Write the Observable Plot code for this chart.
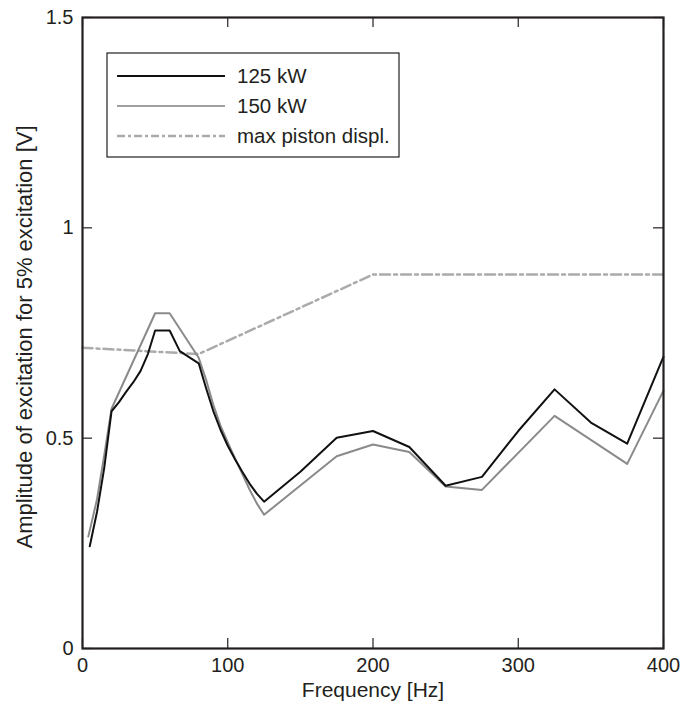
<!DOCTYPE html>
<html>
<head>
<meta charset="utf-8">
<script src="https://cdn.jsdelivr.net/npm/d3@7"></script>
<script src="https://cdn.jsdelivr.net/npm/@observablehq/plot@0.6"></script>
<style>
  html, body { margin: 0; padding: 0; background: #fff; }
  #wrap { position: relative; width: 682px; height: 705px; }
  #legend { position: absolute; left: 0; top: 0; pointer-events: none; }
</style>
</head>
<body>
<div id="wrap"></div>
<script>
// ---- data ----
const freq125 = [5, 10, 15, 20, 25, 30, 35, 40, 45, 50, 60, 67, 80, 85, 90, 95, 100, 105, 110, 115, 120, 125, 150, 175, 200, 225, 250, 275, 300, 325, 350, 375, 400];
const amp125  = [0.243, 0.325, 0.43, 0.564, 0.585, 0.610, 0.633, 0.660, 0.700, 0.756, 0.756, 0.707, 0.678, 0.62, 0.565, 0.52, 0.482, 0.45, 0.42, 0.392, 0.368, 0.349, 0.42, 0.501, 0.517, 0.479, 0.387, 0.408, 0.517, 0.616, 0.537, 0.487, 0.694];

const freq150 = [4, 10, 15, 20, 50, 60, 80, 85, 90, 95, 100, 105, 110, 115, 120, 125, 175, 200, 225, 250, 275, 325, 375, 400];
const amp150  = [0.266, 0.355, 0.46, 0.57, 0.797, 0.797, 0.691, 0.64, 0.58, 0.53, 0.49, 0.452, 0.415, 0.378, 0.345, 0.318, 0.457, 0.485, 0.467, 0.385, 0.377, 0.553, 0.439, 0.613];

const freqPiston = [0, 80, 200, 400];
const ampPiston  = [0.715, 0.700, 0.889, 0.889];

const seriesNames = ["125 kW", "150 kW", "max piston displ."];
const xTickValues = [0, 100, 200, 300, 400];
const yTickValues = [0, 0.5, 1, 1.5];
const yTickLabels = ["0", "0.5", "1", "1.5"];
const xLabel = "Frequency [Hz]";
const yLabel = "Amplitude of excitation for 5% excitation [V]";

// ---- build tables ----
const d125 = freq125.map((f, i) => ({f, a: amp125[i]}));
const d150 = freq150.map((f, i) => ({f, a: amp150[i]}));
const dPiston = freqPiston.map((f, i) => ({f, a: ampPiston[i]}));

const W = 682, H = 705;
const mL = 82, mR = 19, mT = 17, mB = 57;
const plotW = W - mL - mR, plotH = H - mT - mB;
const tickLen = 10;
const font = "'Liberation Sans', Arial, Helvetica, sans-serif";
const ink = "#231f20";

const c125 = "#111111", c150 = "#8a8a8a", cPiston = "#ababab";
const dashPiston = "10,4,3,4";

const chart = Plot.plot({
  width: W, height: H,
  marginLeft: mL, marginRight: mR, marginTop: mT, marginBottom: mB,
  x: {domain: [0, 400]},
  y: {domain: [0, 1.5]},
  style: {fontFamily: font, fontSize: "20px", color: ink, background: "#fff"},
  marks: [
    Plot.axisX(xTickValues, {anchor: "bottom", tickSize: 0, tickPadding: 9, label: null, fontSize: 20, tickFormat: d => String(d)}),
    Plot.axisY(yTickValues, {anchor: "left", tickSize: 0, tickPadding: 9, label: null, fontSize: 20, tickFormat: d => yTickLabels[yTickValues.indexOf(d)]}),
    // inward ticks on all four sides
    Plot.tickX(xTickValues, {x: d => d, insetTop: plotH - tickLen, stroke: ink, strokeWidth: 1.2}),
    Plot.tickX(xTickValues, {x: d => d, insetBottom: plotH - tickLen, stroke: ink, strokeWidth: 1.2}),
    Plot.tickY(yTickValues, {y: d => d, insetRight: plotW - tickLen, stroke: ink, strokeWidth: 1.2}),
    Plot.tickY(yTickValues, {y: d => d, insetLeft: plotW - tickLen, stroke: ink, strokeWidth: 1.2}),
    Plot.line(dPiston, {x: "f", y: "a", stroke: cPiston, strokeWidth: 2.5, strokeDasharray: dashPiston}),
    Plot.line(d150, {x: "f", y: "a", stroke: c150, strokeWidth: 2}),
    Plot.line(d125, {x: "f", y: "a", stroke: c125, strokeWidth: 2}),
    Plot.frame({stroke: ink, strokeWidth: 2.2}),
    Plot.text([xLabel], {frameAnchor: "bottom", textAnchor: "middle", lineAnchor: "middle", dy: 42, fontSize: 21, fill: ink}),
    Plot.text([yLabel], {frameAnchor: "left", textAnchor: "middle", lineAnchor: "middle", dx: -57.5, dy: 4, rotate: -90, fontSize: 22, fill: ink})
  ]
});

const wrap = document.getElementById("wrap");
wrap.appendChild(chart);

// ---- legend (overlay) ----
const ns = "http://www.w3.org/2000/svg";
const lg = document.createElementNS(ns, "svg");
lg.setAttribute("id", "legend");
lg.setAttribute("width", W);
lg.setAttribute("height", H);
const box = {x: 107, y: 53, w: 292, h: 104};
const rowY = [76, 106, 136];
const rect = document.createElementNS(ns, "rect");
rect.setAttribute("x", box.x); rect.setAttribute("y", box.y);
rect.setAttribute("width", box.w); rect.setAttribute("height", box.h);
rect.setAttribute("fill", "#fff"); rect.setAttribute("stroke", ink); rect.setAttribute("stroke-width", 1.2);
lg.appendChild(rect);
const styles = [
  {stroke: c125, width: 2, dash: null},
  {stroke: "#a0a0a0", width: 2, dash: null},
  {stroke: cPiston, width: 2.5, dash: "8,3,3,3"}
];
seriesNames.forEach((name, i) => {
  const ln = document.createElementNS(ns, "line");
  ln.setAttribute("x1", 117); ln.setAttribute("x2", 225);
  ln.setAttribute("y1", rowY[i]); ln.setAttribute("y2", rowY[i]);
  ln.setAttribute("stroke", styles[i].stroke);
  ln.setAttribute("stroke-width", styles[i].width);
  if (styles[i].dash) ln.setAttribute("stroke-dasharray", styles[i].dash);
  lg.appendChild(ln);
  const t = document.createElementNS(ns, "text");
  t.setAttribute("x", 237); t.setAttribute("y", rowY[i] + 7);
  t.setAttribute("font-family", font); t.setAttribute("font-size", 20.5);
  t.setAttribute("fill", ink);
  t.textContent = name;
  lg.appendChild(t);
});
wrap.appendChild(lg);
</script>
</body>
</html>
